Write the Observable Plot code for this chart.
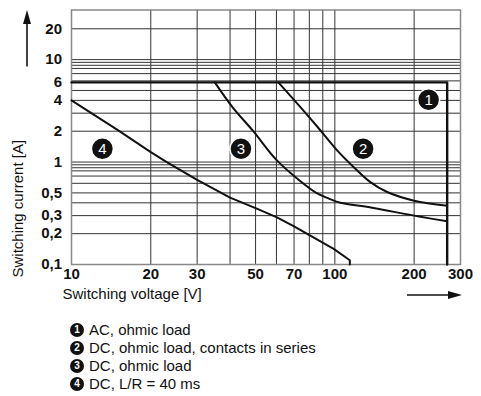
<!DOCTYPE html>
<html><head><meta charset="utf-8">
<script src="https://cdn.jsdelivr.net/npm/d3@7"></script>
<script src="https://cdn.jsdelivr.net/npm/@observablehq/plot@0.6"></script>
<style>
body{margin:0;background:#fff;font-family:"Liberation Sans",Arial,sans-serif;color:#111;}
#legend{margin-left:70px;padding-top:11px;font-size:15px;line-height:18px;}
.row{display:flex;align-items:center;height:18px;}
.dot{display:inline-block;width:14px;height:14px;border-radius:50%;background:#111;color:#fff;font-size:10px;line-height:14px;text-align:center;margin-right:5px;font-weight:bold;}
</style></head><body>
<div id="chart"></div>
<div id="legend"></div>
<script>
const xTicks = [10, 20, 30, 50, 70, 100, 200, 300];
const yTicks = [20, 10, 6, 4, 2, 1, 0.5, 0.3, 0.2, 0.1];
const xGrid = [20, 30, 40, 50, 60, 70, 80, 90, 100, 200];
const yGrid = [20, 10, 9.4, 8.8, 8.2, 7.3, 6.2, 5, 4, 3, 2, 1, 0.94, 0.88, 0.82, 0.73, 0.62, 0.5, 0.4, 0.3, 0.2];

const curve1V = [10, 267, 267];
const curve1I = [6, 6, 0.1];
const curve2V = [61, 74, 86, 102, 118, 136, 158, 200, 267];
const curve2I = [6, 3.44, 2.2, 1.3, 0.89, 0.64, 0.51, 0.42, 0.375];
const curve3V = [35, 41, 49, 60, 74, 85, 95, 105, 137, 200, 267];
const curve3I = [6, 3.4, 2.0, 1.05, 0.65, 0.5, 0.44, 0.40, 0.36, 0.30, 0.265];
const curve4V = [10, 15, 20, 23, 30, 40, 50, 60, 70, 81, 99, 114, 114];
const curve4I = [4, 2.05, 1.25, 1.0, 0.67, 0.45, 0.355, 0.29, 0.235, 0.19, 0.142, 0.11, 0.1];

const badgeNum = [1, 2, 3, 4];
const badgeV = [227, 128, 44, 13.1];
const badgeI = [4.05, 1.35, 1.35, 1.35];
const legendText = ["AC, ohmic load", "DC, ohmic load, contacts in series", "DC, ohmic load", "DC, L/R = 40 ms"];
const xLabel = "Switching voltage [V]";
const yLabel = "Switching current [A]";

const toRows = (V, I) => V.map((v, k) => ({v, i: I[k]}));
const fmt = d => String(d).replace(".", ",");
const badges = badgeNum.map((n, k) => ({n, v: badgeV[k], i: badgeI[k]}));

const plot = Plot.plot({
  width: 481, height: 310,
  marginLeft: 71, marginRight: 21, marginTop: 9.5, marginBottom: 46,
  x: {type: "log", domain: [10, 300], axis: null},
  y: {type: "log", domain: [0.1, 30.5], axis: null},
  style: {fontFamily: '"Liberation Sans", Arial, sans-serif', background: "#fff", color: "#111"},
  marks: [
    Plot.ruleX(xGrid, {stroke: "#333", strokeWidth: 1}),
    Plot.ruleY(yGrid, {stroke: "#333", strokeWidth: 1}),
    Plot.frame({stroke: "#888", strokeWidth: 1.5}),
    Plot.line(toRows(curve1V, curve1I), {x: "v", y: "i", stroke: "#111", strokeWidth: 2.4}),
    Plot.line(toRows(curve2V, curve2I), {x: "v", y: "i", stroke: "#111", strokeWidth: 2, curve: "catmull-rom"}),
    Plot.line(toRows(curve3V, curve3I), {x: "v", y: "i", stroke: "#111", strokeWidth: 2, curve: "catmull-rom"}),
    Plot.line(toRows(curve4V, curve4I), {x: "v", y: "i", stroke: "#111", strokeWidth: 2}),
    Plot.dot(badges, {x: "v", y: "i", r: 11, fill: "#111", stroke: "#fff", strokeWidth: 1.5}),
    Plot.text(badges, {x: "v", y: "i", text: d => String(d.n), fill: "#fff", fontSize: 15}),
    Plot.text(yTicks, {y: d => d, frameAnchor: "left", dx: -9.5, textAnchor: "end", text: fmt, fontSize: 15, fontWeight: "bold"}),
    Plot.text(xTicks, {x: d => d, frameAnchor: "bottom", dy: 14, text: fmt, fontSize: 15, fontWeight: "bold"}),
    Plot.text([xLabel], {frameAnchor: "bottom-left", dx: -9, dy: 34, textAnchor: "start", fontSize: 15}),
    Plot.text([yLabel], {frameAnchor: "bottom-left", dx: -49, dy: 13, textAnchor: "start", rotate: -90, fontSize: 15})
  ]
});
document.getElementById("chart").appendChild(plot);

// decorative axis arrows
const xr = plot.scale("x").range, yr = plot.scale("y").range;
const svg = d3.select(plot);
const ax = xr[0] - 44, ayTop = yr[1] + 0.5, ayBot = yr[1] + 57;
svg.append("line").attr("x1", ax).attr("x2", ax).attr("y1", ayBot).attr("y2", ayTop + 12).attr("stroke", "#111").attr("stroke-width", 1.6);
svg.append("path").attr("d", `M${ax},${ayTop} L${ax - 4},${ayTop + 14} L${ax + 4},${ayTop + 14} Z`).attr("fill", "#111");
const by = yr[0] + 31, bxL = xr[1] - 53, bxR = xr[1] + 2;
svg.append("line").attr("x1", bxL).attr("x2", bxR - 12).attr("y1", by).attr("y2", by).attr("stroke", "#111").attr("stroke-width", 1.6);
svg.append("path").attr("d", `M${bxR},${by} L${bxR - 14},${by - 4} L${bxR - 14},${by + 4} Z`).attr("fill", "#111");

const leg = d3.select("#legend");
legendText.forEach((t, k) => {
  const r = leg.append("div").attr("class", "row");
  r.append("span").attr("class", "dot").text(badgeNum[k]);
  r.append("span").text(t);
});
</script>
</body></html>
